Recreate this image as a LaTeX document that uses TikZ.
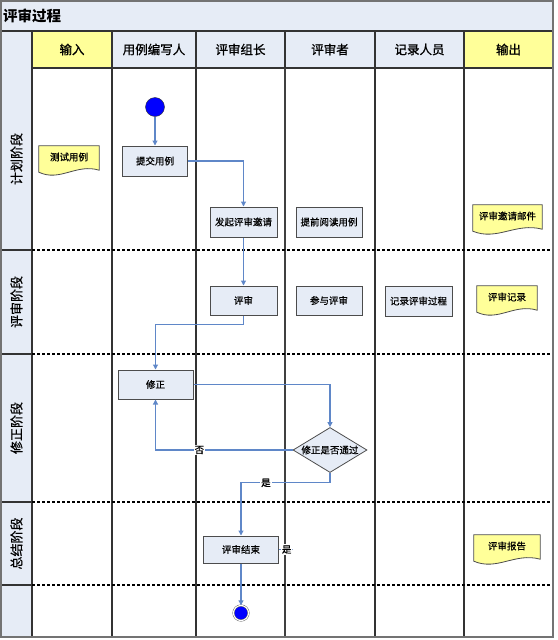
\documentclass[tikz,border=0pt]{standalone}
\usepackage{fontspec}
\setmainfont{Noto Sans CJK SC}
\newfontfamily\heavycjk[FakeBold=1.1]{Noto Sans CJK SC}
\newfontfamily\midcjk[FakeBold=0.6]{Noto Sans CJK SC}
\usetikzlibrary{arrows.meta, calc, positioning, shapes.geometric, backgrounds}

\definecolor{lanebg}{RGB}{230,236,246}
\definecolor{headyel}{RGB}{255,255,153}
\definecolor{flowblue}{RGB}{95,135,200}

% wavy document outline behind a named node
\newcommand{\docshape}[1]{%
  \begin{scope}[on background layer]
    \filldraw[docline] (#1.south west) -- (#1.north west) -- (#1.north east)
      -- ($(#1.south east)+(0,2)$)
      .. controls ($(#1.south west)!0.62!(#1.south east)+(0,-5)$)
      and ($(#1.south west)!0.35!(#1.south east)+(0,14)$)
      .. ($(#1.south west)+(0,4)$) -- cycle;
  \end{scope}}

\begin{document}
\begin{tikzpicture}[x=1pt, y=-1pt,
    gridline/.style={draw=black!80, line width=1.2pt},
    laneline/.style={draw=black, line width=1.5pt, dash pattern=on 3pt off 2pt},
    titletxt/.style={font=\fontsize{14.5}{16}\selectfont\bfseries, inner sep=0},
    headtxt/.style={font=\fontsize{12.5}{14}\selectfont\heavycjk, inner sep=0},
    lanetxt/.style={font=\fontsize{13}{14}\selectfont\midcjk, inner sep=0, rotate=90},
    task/.style={rectangle, draw=black!70, fill=lanebg, line width=1pt,
        minimum height=30, inner sep=0, font=\fontsize{9.5}{11}\selectfont\midcjk},
    doc/.style={rectangle, minimum height=22, inner sep=0,
        font=\fontsize{9.5}{11}\selectfont\midcjk},
    docline/.style={draw=black!70, fill=headyel, line width=0.8pt},
    decision/.style={diamond, draw=black!70, fill=lanebg, line width=0.8pt,
        minimum width=74, minimum height=45, inner sep=0},
    startpt/.style={circle, draw=black!80, fill=blue, minimum size=19, inner sep=0},
    endpt/.style={circle, draw=black!70, fill=blue, double=white,
        double distance=1.2pt, minimum size=15, inner sep=0},
    flow/.style={draw=flowblue, line width=1.1pt,
        -{Triangle[length=5pt, width=5pt]}},
    edgelbl/.style={fill=white, inner sep=1pt, font=\fontsize{9.5}{11}\selectfont\midcjk},
]
\useasboundingbox (0,0) rectangle (557,640);

% --- Title bar and header row ---
\draw[gridline, draw=black!55, fill=lanebg] (1,1) rectangle (553,31);
\node[titletxt, anchor=west] (title) at (3,16) {评审过程};
\draw[gridline, fill=lanebg] (1,31) rectangle (32,637);
\foreach \xa/\xb/\hname/\hfill in {32/112/输入/headyel, 112/196/用例编写人/lanebg,
    196/285/评审组长/lanebg, 285/375/评审者/lanebg, 375/464/记录人员/lanebg,
    464/553/输出/headyel} {
    \draw[gridline, fill=\hfill] (\xa,31) rectangle (\xb,68);
    \node[headtxt] (h\xa) at ({(\xa+\xb)/2},49.5) {\hname};
}

% --- Lanes ---
\foreach \ya/\yb/\lname in {68/250/计划阶段, 250/354/评审阶段,
    354/502/修正阶段, 502/585/总结阶段} {
    \draw[gridline] (1,\yb) -- (32,\yb);
    \node[lanetxt] (l\ya) at (16.5,{(\ya+\yb)/2}) {\lname};
}
\foreach \x in {112,196,375,464}
    \draw[gridline] (\x,68) -- (\x,637);
\draw[gridline, line width=2pt, draw=black!75] (285,68) -- (285,637);
\foreach \y in {250,354,502,585}
    \draw[laneline] (32,\y) -- (553,\y);
\draw[gridline, draw=black!55] (1,1) rectangle (553,637);

% --- Steps ---
\node[startpt] (start) at (155,107) {};
\node[task, minimum width=65] (submit) at (155,161) {提交用例};
\node[task, minimum width=67] (invite) at (243.5,222) {发起评审邀请};
\node[task, minimum width=66] (preread) at (329,222) {提前阅读用例};
\node[task, minimum width=67, minimum height=29] (review) at (243.5,300.5) {评审};
\node[task, minimum width=66, minimum height=29] (join) at (329,300.5) {参与评审};
\node[task, minimum width=67] (record) at (418.5,301) {记录评审过程};
\node[task, minimum width=75, minimum height=29] (fix) at (155.5,384.5) {修正};
\node[decision, label={[font=\fontsize{9.5}{11}\selectfont\midcjk]center:修正是否通过}]
    (check) at (330,450) {};
\node[task, minimum width=75, minimum height=27] (finish) at (241,549.5) {评审结束};
\node[endpt] (stop) at (241,613) {};
\coordinate (finishout) at (293,549.5);

% --- Documents ---
\node[doc, minimum width=60] (testcase) at (69,157) {测试用例};
\node[doc, minimum width=69] (mail) at (507.5,216) {评审邀请邮件};
\node[doc, minimum width=60] (minutes) at (507,297) {评审记录};
\node[doc, minimum width=66] (report) at (507,546) {评审报告};
\docshape{testcase}
\docshape{mail}
\docshape{minutes}
\docshape{report}

% --- Flow ---
\draw[flow] (start) -- (submit);
\draw[flow] (submit) -| (invite);
\draw[flow] (invite) -- (review);
\draw[flow] (review.south) -- ++(0,9) -| (fix);
\draw[flow] (fix) -| (check);
\draw[flow] (check) -| node[edgelbl, pos=0.34] {否} (fix);
\draw[flow] (check.south) -- ++(0,10) -| node[edgelbl, pos=0.36] {是} (finish);
\draw[flow] (finish) -- node[edgelbl, pos=0.55] {是} (finishout);
\draw[flow] (finish) -- (stop);

\end{tikzpicture}
\end{document}
